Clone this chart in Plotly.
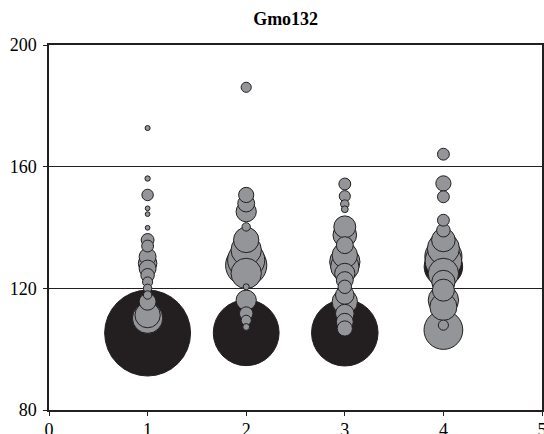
import plotly.graph_objects as go

# Sample (population) index for each allele bubble
sample = [1]*19 + [2]*16 + [3]*19 + [4]*17
# Allele size (bp)
allele = [
    # sample 1
    172.7, 156.1, 150.7, 146.3, 144.4, 139.9, 135.9, 133.9, 130.4, 128.2,
    126.5, 124.3, 122.1, 120.0, 117.8, 115.6, 111.2, 110.2, 105.3,
    # sample 2
    186.1, 150.7, 147.9, 145.2, 140.2, 135.9, 132.6, 129.3, 127.6, 124.9,
    120.5, 116.1, 111.7, 109.5, 107.3, 105.4,
    # sample 3
    154.3, 150.3, 147.7, 146.0, 140.2, 137.5, 134.2, 130.9, 128.7, 127.1,
    124.9, 122.7, 120.5, 117.8, 115.6, 111.7, 109.0, 106.8, 105.4,
    # sample 4
    164.1, 154.5, 150.1, 142.4, 139.1, 135.9, 133.1, 130.4, 129.0, 127.1,
    124.9, 122.1, 119.4, 116.1, 113.9, 106.3, 107.9,
]
# Allele frequency (bubble area)
freq = [
    0.0025, 0.0028, 0.0128, 0.0022, 0.0022, 0.0022, 0.0161, 0.0137, 0.0279, 0.0335,
    0.0279, 0.0177, 0.0100, 0.0069, 0.0069, 0.0279, 0.0625, 0.0900, 0.7200,
    0.0100, 0.0225, 0.0279, 0.0400, 0.0069, 0.0625, 0.0900, 0.1347, 0.1656, 0.0900,
    0.0036, 0.0400, 0.0177, 0.0100, 0.0045, 0.4225,
    0.0137, 0.0121, 0.0069, 0.0045, 0.0471, 0.0543, 0.0279, 0.0625, 0.0900, 0.0784,
    0.0400, 0.0279, 0.0177, 0.0335, 0.0625, 0.0335, 0.0279, 0.0225, 0.4316,
    0.0137, 0.0225, 0.0137, 0.0137, 0.0177, 0.0543, 0.1005, 0.1347, 0.1300, 0.1444,
    0.0900, 0.0529, 0.0471, 0.0900, 0.0713, 0.1467, 0.0100,
]
# Most frequent allele in each sample (drawn black)
modal = [
    0]*18 + [1] + [0]*15 + [1] + [0]*18 + [1] + [0]*9 + [1] + [0]*7

GRAY = "#939598"
BLACK = "#231f20"

order = sorted(range(len(freq)), key=lambda i: -freq[i])
xs = [sample[i] for i in order]
ys = [allele[i] for i in order]
ss = [freq[i] for i in order]
cs = [BLACK if modal[i] else GRAY for i in order]

fig = go.Figure(go.Scatter(
    x=xs, y=ys, mode="markers", cliponaxis=False,
    marker=dict(size=ss, sizemode="area", sizeref=1.95e-4, color=cs,
                line=dict(color=BLACK, width=1), opacity=1),
    hoverinfo="x+y",
))

SERIF = "Liberation Serif"
axis_font = dict(family=SERIF, size=18, color="black")
fig.update_layout(
    width=544, height=434,
    margin=dict(l=49, r=2, t=45, b=24, autoexpand=False),
    paper_bgcolor="white", plot_bgcolor="white",
    showlegend=False,
    title=dict(text="<b>Gmo132</b>", x=0.48, xref="paper", xanchor="center",
               y=1, yref="container", yanchor="top", pad=dict(t=12),
               font=dict(family=SERIF, size=18, color="black")),
    xaxis=dict(range=[0, 5], tickvals=[0, 1, 2, 3, 4, 5], ticks="outside", ticklen=4,
               tickcolor=BLACK, showline=True, linecolor=BLACK, linewidth=1.5, mirror=True,
               showgrid=False, zeroline=False, tickfont=axis_font, automargin=False,
               ticklabelstandoff=-1, ticklabeloverflow="allow"),
    yaxis=dict(range=[80, 200], tickvals=[80, 120, 160, 200], ticks="outside", ticklen=4,
               tickcolor=BLACK, showline=True, linecolor=BLACK, linewidth=1.5, mirror=True,
               showgrid=True, gridcolor=BLACK, gridwidth=1, zeroline=False,
               tickfont=axis_font, ticklabelstandoff=3, automargin=False),
)

fig.write_html("out.html", config={"displayModeBar": False},
               post_script="document.body.style.margin='0';document.body.style.overflow='hidden';")
